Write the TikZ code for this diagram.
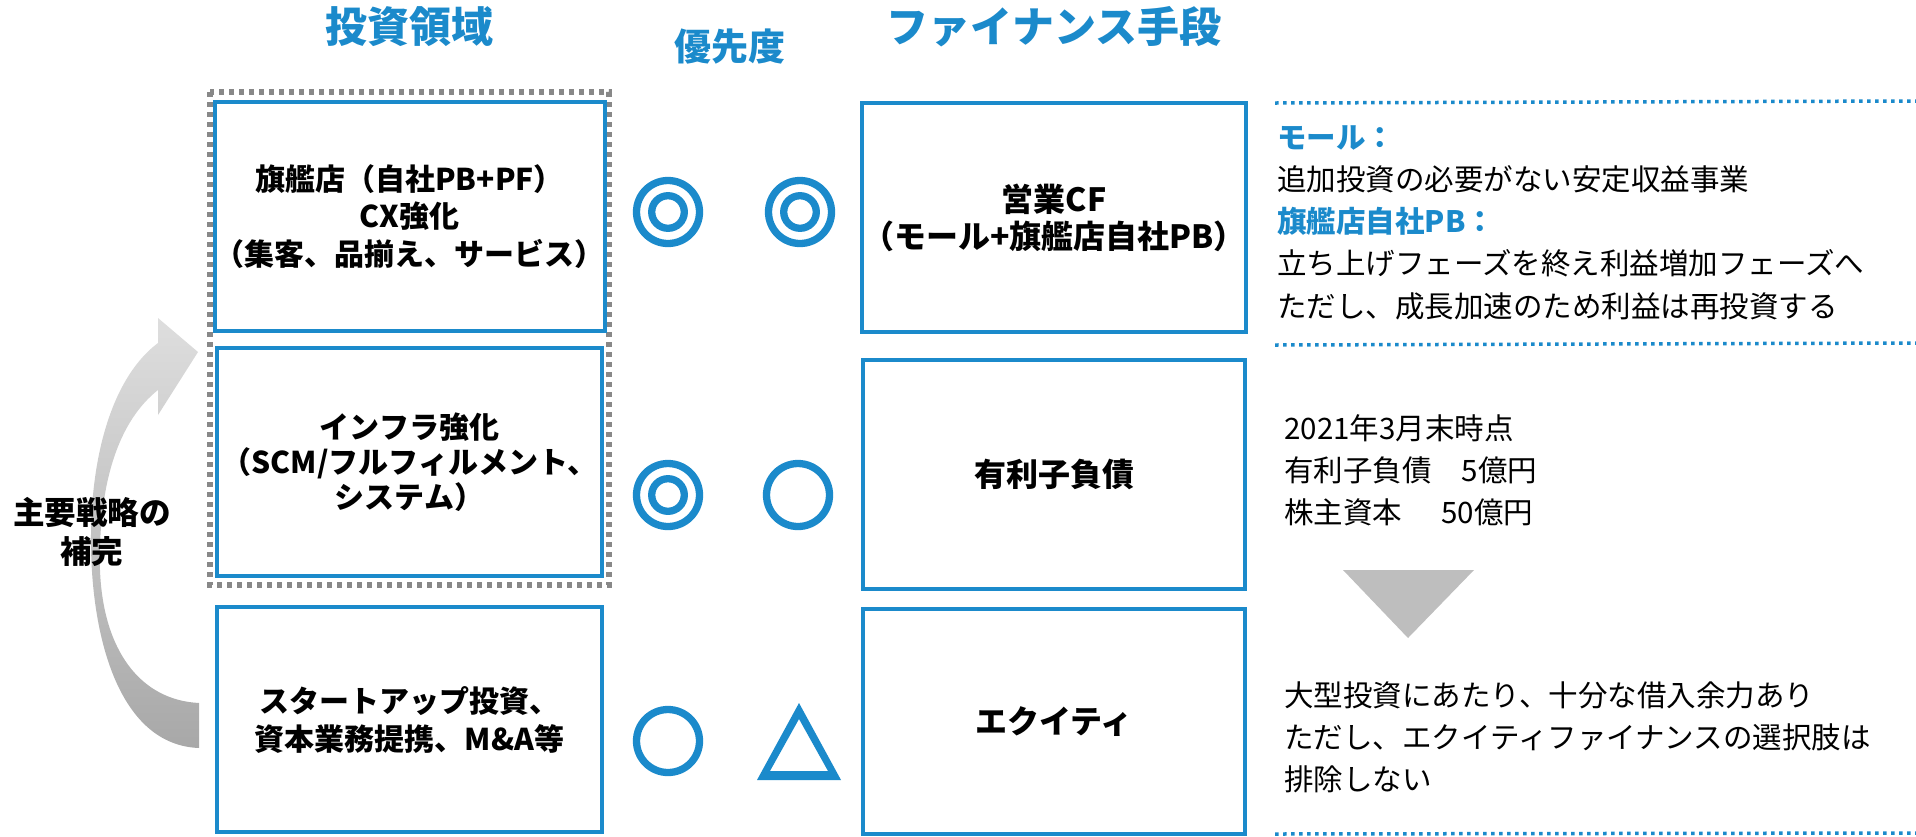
\documentclass[tikz,border=0pt]{standalone}
\usepackage{fontspec}
\setmainfont{Noto Sans CJK JP}
\definecolor{cblue}{HTML}{1B8ACB}
\definecolor{dotgray}{HTML}{888888}
\definecolor{trigray}{HTML}{BEBEBE}
\definecolor{arrtop}{HTML}{DEDEDE}
\definecolor{arrbot}{HTML}{A8A8A8}
\begin{document}
\begin{tikzpicture}[x=0.5pt,y=-0.5pt,
  title/.style={text=cblue, font=\bfseries\fontsize{21}{25}\selectfont, inner sep=0pt},
  boxL/.style={draw=cblue, line width=2pt, minimum width=192.5pt, align=center, inner sep=0pt,
    font=\bfseries\fontsize{15}{18.75}\selectfont},
  boxR/.style={draw=cblue, line width=2pt, minimum width=191pt, align=center, inner sep=0pt,
    font=\bfseries\fontsize{16}{18.5}\selectfont},
  sym/.style={draw=cblue, line width=3.65pt},
  rtext/.style={anchor=west, align=left, inner sep=0pt, font=\fontsize{14.75}{21.1}\selectfont},
  bluedot/.style={draw=cblue, line width=1.75pt, dash pattern=on 1.75pt off 2.25pt},
  graydot/.style={draw=dotgray, line width=2.75pt, dash pattern=on 2.6pt off 2.4pt}
]
\useasboundingbox (0,0) rectangle (1916,836);

% titles
\node[title] (t1) at (409,27) {投資領域};
\node[title, font=\bfseries\fontsize{18.5}{22}\selectfont] (t2) at (730,47) {優先度};
\node[title] (t3) at (1054,27) {ファイナンス手段};

% curved arrow
\shade[top color=arrtop, bottom color=arrbot]
  (158,343) .. controls (115,375) and (90,450) .. (91,545)
  .. controls (92,640) and (120,745) .. (199,748)
  -- (199,703) .. controls (140,700) and (103,650) .. (100,570)
  .. controls (98,480) and (120,420) .. (158,390)
  -- (158,415) -- (198,352) -- (158,318) -- cycle;
\node[align=center, inner sep=0pt, font=\bfseries\fontsize{15.8}{19.5}\selectfont] (lab) at (92,532) {主要戦略の\\補完};

% dotted grouping
\draw[graydot] (210,92) rectangle (609,585);

% left boxes
\node[boxL, minimum height=114.5pt] (L1) at (409.5,216.5) {旗艦店（自社PB+PF）\\CX強化\\（集客、品揃え、サービス）};
\node[boxL, minimum height=114pt, font=\bfseries\fontsize{15}{17.5}\selectfont] (L2) at (409.5,462) {インフラ強化\\（SCM/フルフィルメント、\\システム）};
\node[boxL, minimum height=112.5pt, font=\bfseries\fontsize{15}{19}\selectfont] (L3) at (409.5,719.5) {スタートアップ投資、\\資本業務提携、M\&A等};

% right boxes
\node[boxR, minimum height=114.5pt] (R1) at (1054,217.5) {営業CF\\（モール+旗艦店自社PB）};
\node[boxR, minimum height=114.5pt] (R2) at (1054,474.5) {有利子負債};
\node[boxR, minimum height=112.5pt] (R3) at (1054,721.5) {エクイティ};

% priority symbols
\draw[sym] (668,212) circle[radius=15.75pt];
\draw[sym] (668,212) circle[radius=8.15pt];
\draw[sym] (800,212) circle[radius=15.75pt];
\draw[sym] (800,212) circle[radius=8.15pt];
\draw[sym] (668,495) circle[radius=15.75pt];
\draw[sym] (668,495) circle[radius=8.15pt];
\draw[sym] (798,495) circle[radius=15.75pt];
\draw[sym] (668,741) circle[radius=15.75pt];
\fill[cblue, even odd rule] (757,780) -- (799,703) -- (841,780) -- cycle
  (770,771) -- (799,719) -- (828,771) -- cycle;

% right notes
\coordinate (d1a) at (1275,103); \coordinate (d1b) at (1916,101);
\coordinate (d2a) at (1275,345); \coordinate (d2b) at (1916,343);
\coordinate (d3a) at (1275,834); \coordinate (d3b) at (1916,833);
\draw[bluedot] (d1a) -- (d1b);
\draw[bluedot] (d2a) -- (d2b);
\draw[bluedot] (d3a) -- (d3b);

\node[rtext] (n1) at (1277,222.5) {\textcolor{cblue}{\bfseries モール：}\\追加投資の必要がない安定収益事業\\\textcolor{cblue}{\bfseries 旗艦店自社PB：}\\立ち上げフェーズを終え利益増加フェーズへ\\ただし、成長加速のため利益は再投資する};
\node[rtext] (n2) at (1284,470.5) {2021年3月末時点\\有利子負債\hspace{15pt}5億円\\株主資本\hspace{19.5pt}50億円};
\fill[trigray] (1343,570) -- (1474,570) -- (1408,638) -- cycle;
\node[rtext] (n3) at (1284,737.5) {大型投資にあたり、十分な借入余力あり\\ただし、エクイティファイナンスの選択肢は\\排除しない};
\end{tikzpicture}
\end{document}
